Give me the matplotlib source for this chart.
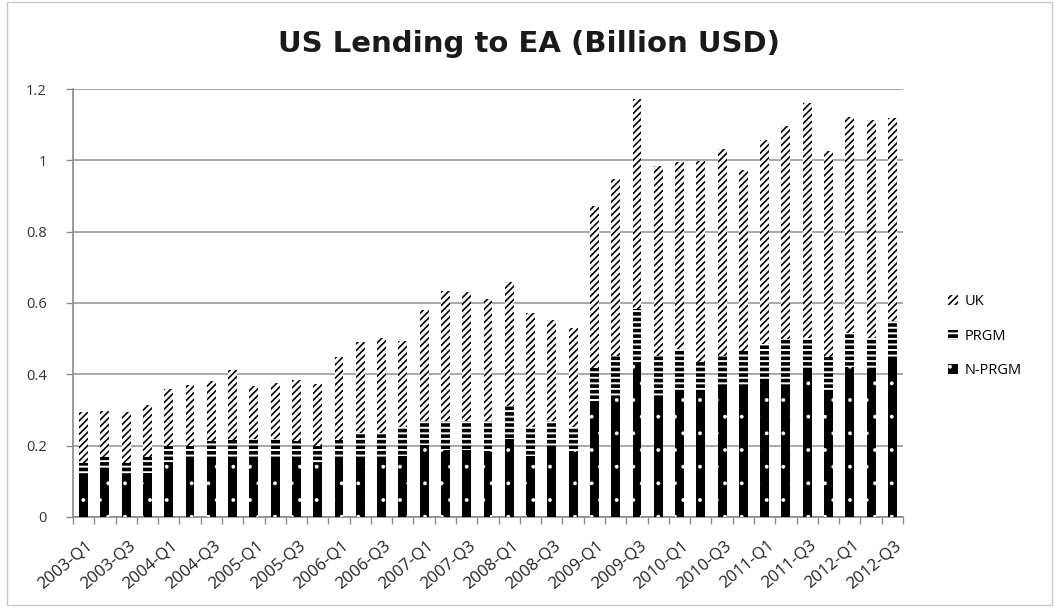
import matplotlib
matplotlib.use("Agg")
import matplotlib as mpl
import matplotlib.pyplot as plt
from matplotlib.patches import Patch, Rectangle
import matplotlib.transforms as mtransforms
import numpy as np

plt.rcParams['font.family'] = ['Open Sans', 'DejaVu Sans']
plt.rcParams['hatch.linewidth'] = 1.2

quarters = [f"{y}-Q{q}" for y in range(2003, 2013) for q in range(1, 5)][:39]

n_prgm = [0.117, 0.134, 0.117, 0.122, 0.151, 0.167, 0.167, 0.167, 0.167, 0.167,
          0.167, 0.151, 0.167, 0.167, 0.167, 0.171, 0.201, 0.187, 0.187, 0.184,
          0.220, 0.171, 0.199, 0.184, 0.316, 0.333, 0.434, 0.333, 0.349, 0.349,
          0.368, 0.371, 0.384, 0.371, 0.418, 0.354, 0.421, 0.418, 0.449]
prgm_top = [0.151, 0.167, 0.151, 0.167, 0.200, 0.200, 0.213, 0.216, 0.218, 0.218,
            0.213, 0.200, 0.216, 0.235, 0.235, 0.251, 0.268, 0.268, 0.268, 0.268,
            0.312, 0.251, 0.268, 0.253, 0.419, 0.452, 0.584, 0.452, 0.471, 0.435,
            0.452, 0.466, 0.485, 0.499, 0.502, 0.448, 0.516, 0.502, 0.549]
total = [0.295, 0.297, 0.295, 0.314, 0.359, 0.371, 0.382, 0.413, 0.368, 0.377,
         0.385, 0.373, 0.448, 0.492, 0.501, 0.494, 0.581, 0.635, 0.630, 0.610,
         0.658, 0.572, 0.552, 0.530, 0.872, 0.948, 1.173, 0.984, 0.995, 0.998,
         1.033, 0.972, 1.056, 1.096, 1.161, 1.025, 1.122, 1.114, 1.119]

n_prgm = np.array(n_prgm)
prgm = np.array(prgm_top) - n_prgm
uk = np.array(total) - np.array(prgm_top)


def hatch_lw(artist, lw):
    orig = artist.draw

    def draw(renderer, _orig=orig, _lw=lw):
        with mpl.rc_context({'hatch.linewidth': _lw}):
            _orig(renderer)
    artist.draw = draw
    if hasattr(artist, 'set_hatch_linewidth'):
        artist.set_hatch_linewidth(lw)


fig = plt.figure(figsize=(10.59, 6.08), dpi=100)
fig.patches.append(Rectangle((7 / 1059, 3 / 608), 1045 / 1059, 603 / 608,
                             transform=fig.transFigure, fill=False,
                             edgecolor='#c8c8c8', linewidth=1))
ax = fig.add_axes([0.0689, 0.1497, 0.7838, 0.7039])

x = np.arange(len(quarters))
w = 0.42
b1 = ax.bar(x, n_prgm, w, color='black', edgecolor='white', hatch='.', linewidth=0, zorder=3)
b2 = ax.bar(x, prgm, w, bottom=n_prgm, color='white', edgecolor='black', hatch='---',
            linewidth=0, zorder=3)
b3 = ax.bar(x, uk, w, bottom=n_prgm + prgm, color='white', edgecolor='black', hatch='/////',
            linewidth=0, zorder=3)
for p in b1:
    hatch_lw(p, 0.3)
for p in b2:
    hatch_lw(p, 2.6)
for p in b3:
    hatch_lw(p, 1.2)

ax.set_ylim(0, 1.2)
ax.set_xlim(-0.5, len(quarters) - 0.5)
ax.set_yticks(np.arange(0, 1.21, 0.2))
ax.set_yticklabels(['0', '0.2', '0.4', '0.6', '0.8', '1', '1.2'], fontsize=10.5, color='#333333')
ax.yaxis.grid(True, color='#9a9a9a', linewidth=1.2, zorder=0)
ax.set_axisbelow(True)

ax.set_xticks(x[::2])
ax.set_xticklabels(quarters[::2], rotation=40, ha='right', va='center', rotation_mode='anchor',
                   fontsize=12, color='#222222')
ax.tick_params(axis='x', which='major', length=0, pad=19)
offset = mtransforms.ScaledTranslation(5 / 72, 0, fig.dpi_scale_trans)
for lbl in ax.get_xticklabels():
    lbl.set_transform(lbl.get_transform() + offset)
ax.set_xticks(np.arange(-0.5, len(quarters), 1), minor=True)
ax.tick_params(axis='x', which='minor', length=5, color='#8a8a8a', width=1)
ax.tick_params(axis='y', length=5, color='#8a8a8a', width=1, pad=14)

for s in ['top', 'right']:
    ax.spines[s].set_visible(False)
for s in ['left', 'bottom']:
    ax.spines[s].set_color('#8a8a8a')
    ax.spines[s].set_linewidth(1.2)

fig.text(0.5, 0.927, 'US Lending to EA (Billion USD)', ha='center', va='center',
         fontsize=21, fontweight='bold', color='#1a1a1a', family=['DejaVu Sans'])

handles = [
    Patch(facecolor='white', edgecolor='black', hatch='/////', linewidth=0, label='UK'),
    Patch(facecolor='white', edgecolor='black', hatch='---', linewidth=0, label='PRGM'),
    Patch(facecolor='black', edgecolor='white', hatch='.', linewidth=0, label='N-PRGM'),
]
leg = fig.legend(handles=handles, loc='center left', bbox_to_anchor=(0.883, 0.447),
                 frameon=False, fontsize=10.5, handlelength=0.7, handleheight=0.7,
                 handletextpad=0.4, labelspacing=1.35)
lw_map = [1.2, 2.6, 0.3]
for h, lw in zip(leg.get_patches(), lw_map):
    hatch_lw(h, lw)

fig.savefig('out.png', dpi=100)
